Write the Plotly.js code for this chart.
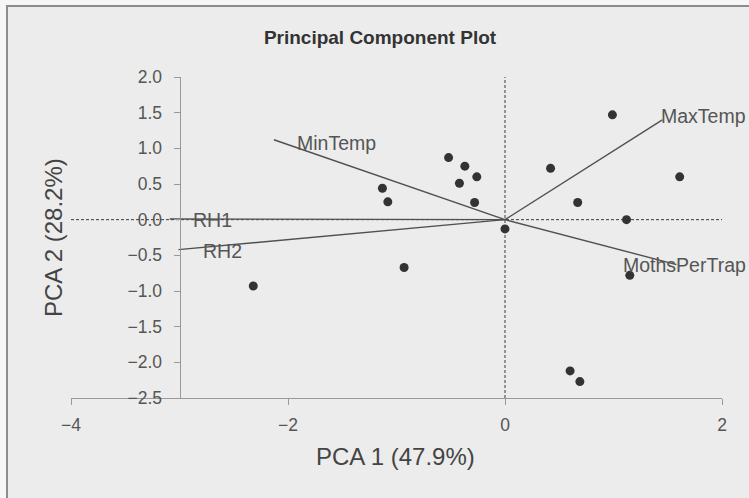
<!DOCTYPE html>
<html>
<head>
<meta charset="utf-8">
<script src="https://cdn.plot.ly/plotly-3.0.1.min.js"></script>
<style>html,body{margin:0;padding:0;background:#f6f6f6;}#chart{width:749px;height:498px;}</style>
</head>
<body>
<div id="chart"></div>
<script>
// Scores (observations)
const pc1Scores = [0.99, 1.61, -0.52, -0.37, -0.26, -0.42, -0.28, -1.13, -1.08, 0.42, 0.67, 1.12, 0.00, -0.93, 1.15, 0.60, 0.69, -2.32];
const pc2Scores = [1.47, 0.60, 0.87, 0.75, 0.60, 0.51, 0.24, 0.44, 0.25, 0.72, 0.24, 0.00, -0.13, -0.67, -0.78, -2.12, -2.27, -0.93];

// Loadings (vector endpoints)
const varNames = ["MinTemp", "MaxTemp", "MothsPerTrap", "RH1", "RH2"];
const loadPC1 = [-2.13, 1.45, 1.58, -3.09, -3.01];
const loadPC2 = [1.12, 1.40, -0.63, 0.01, -0.42];
// Label anchor positions
const labelPC1 = [-1.94, 1.42, 1.07, -2.89, -2.80];
const labelPC2 = [1.08, 1.46, -0.64, 0.00, -0.44];

// Axis ticks
const xTicks = [-4, -2, 0, 2];
const yTicks = [-2.5, -2.0, -1.5, -1.0, -0.5, 0.0, 0.5, 1.0, 1.5, 2.0];

const FONT = "Liberation Sans, Arial, sans-serif";
const TXT = "#555555";

const traces = [];
varNames.forEach((n, i) => {
  traces.push({
    type: "scatter", mode: "lines",
    x: [0, loadPC1[i]], y: [0, loadPC2[i]],
    line: {color: "#505050", width: 1.4},
    hoverinfo: "skip", showlegend: false
  });
});
traces.push({
  type: "scatter", mode: "markers",
  x: pc1Scores, y: pc2Scores,
  marker: {color: "#333333", size: 9},
  showlegend: false
});

const annotations = varNames.map((n, i) => ({
  x: labelPC1[i], y: labelPC2[i], xref: "x", yref: "y",
  text: n, showarrow: false, xanchor: "left", yanchor: "middle",
  font: {family: FONT, size: 19.5, color: TXT}
}));
annotations.push({
  xref: "paper", yref: "paper", x: (395 - 71) / 651, y: (398 - 457) / 321,
  text: "PCA 1 (47.9%)", showarrow: false, xanchor: "center", yanchor: "middle",
  font: {family: FONT, size: 24, color: "#444444"}
});
annotations.push({
  xref: "paper", yref: "paper", x: (54 - 71) / 651, y: (398 - 238) / 321,
  text: "PCA 2 (28.2%)", showarrow: false, textangle: -90, xanchor: "center", yanchor: "middle",
  font: {family: FONT, size: 24, color: "#444444"}
});

const layout = {
  width: 749, height: 498,
  margin: {l: 71, r: 27, t: 77, b: 100},
  paper_bgcolor: "#f6f6f6",
  plot_bgcolor: "rgba(0,0,0,0)",
  showlegend: false,
  title: {
    text: "<b>Principal Component Plot</b>",
    x: 380 / 749, xanchor: "center", xref: "container",
    y: 1 - 37 / 498, yanchor: "middle", yref: "container",
    font: {family: FONT, size: 19, color: "#333333"}
  },
  xaxis: {
    range: [-4, 2], tickvals: xTicks, ticktext: xTicks.map(v => v < 0 ? "\u2212" + Math.abs(v) : String(v)),
    showgrid: false, zeroline: false, showline: true, linecolor: "#999999", linewidth: 1,
    ticks: "outside", ticklen: 6, tickcolor: "#999999", ticklabelstandoff: 5,
    tickfont: {family: FONT, size: 17.5, color: TXT}, fixedrange: true
  },
  yaxis: {
    range: [-2.5, 2], tickvals: yTicks, tickformat: ".1f",
    anchor: "free", position: 1 / 6,
    showgrid: false, zeroline: false, showline: true, linecolor: "#999999", linewidth: 1,
    ticks: "outside", ticklen: 6, tickcolor: "#999999", ticklabelstandoff: 8,
    tickfont: {family: FONT, size: 17.5, color: TXT}, fixedrange: true
  },
  shapes: [
    {type: "rect", xref: "paper", yref: "paper", x0: (7 - 71) / 651, x1: 1.3, y0: -0.5, y1: (398 - 6) / 321,
     fillcolor: "#ececec", line: {color: "#8c8c8c", width: 2}, layer: "below"},
    {type: "line", xref: "x", yref: "y", x0: -4, x1: 2, y0: 0, y1: 0,
     line: {color: "#3a3a3a", width: 1, dash: "3px,2px"}, layer: "below"},
    {type: "line", xref: "x", yref: "y", x0: 0, x1: 0, y0: -2.5, y1: 2,
     line: {color: "#3a3a3a", width: 1, dash: "3px,2px"}, layer: "below"}
  ],
  annotations: annotations
};

Plotly.newPlot("chart", traces, layout, {displayModeBar: false, staticPlot: true});
</script>
</body>
</html>
